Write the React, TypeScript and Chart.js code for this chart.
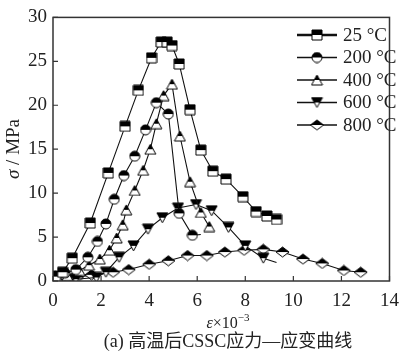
import React, { useEffect, useRef } from "react";
import { Chart, registerables } from "chart.js";

Chart.register(...registerables);

// ---- data (strain ×10^-3, stress MPa) ----
const seriesLabels = ["25 °C", "200 °C", "400 °C", "600 °C", "800 °C"];

const strain25 = [0.1, 0.4, 0.8, 1.55, 2.3, 3.0, 3.55, 4.1, 4.5, 4.75, 4.95, 5.25, 5.7, 6.15, 6.65, 7.2, 7.9, 8.45, 8.9, 9.3];
const stress25 = [0.5, 1.0, 2.6, 6.6, 12.3, 17.6, 21.7, 25.4, 27.2, 27.2, 26.8, 24.7, 19.5, 14.9, 12.5, 11.6, 9.6, 7.9, 7.4, 7.0];

const strain200 = [0.1, 0.5, 0.95, 1.45, 1.85, 2.2, 2.55, 2.95, 3.4, 3.85, 4.3, 4.8, 5.25, 5.8, 6.15];
const stress200 = [0.6, 0.9, 1.3, 2.7, 4.5, 6.5, 9.3, 12.0, 14.2, 17.2, 20.3, 19.0, 7.7, 5.2, 5.3];

const strain400 = [0.2, 0.6, 1.1, 1.5, 1.95, 2.35, 2.65, 2.9, 3.05, 3.4, 3.75, 4.05, 4.3, 4.6, 4.95, 5.28, 5.7, 6.15, 6.5];
const stress400 = [0.3, 0.6, 1.2, 1.8, 2.5, 3.5, 4.9, 6.4, 8.1, 10.3, 12.6, 15.0, 17.9, 21.1, 22.4, 16.5, 11.3, 7.8, 6.2];

const strain600 = [0.2, 0.6, 0.95, 1.8, 2.2, 2.75, 3.35, 3.95, 4.55, 5.2, 5.95, 6.6, 7.3, 8.0, 8.75, 9.3];
const stress600 = [0.2, 0.1, 0.2, 0.4, 1.0, 2.7, 4.0, 5.9, 7.2, 8.3, 8.7, 8.0, 6.1, 4.0, 2.6, 2.1];

const strain800 = [0.1, 0.5, 1.0, 1.6, 2.5, 3.15, 4.0, 4.8, 5.6, 6.4, 7.15, 7.95, 8.75, 9.55, 10.4, 11.2, 12.1, 12.8];
const stress800 = [0.5, 0.3, 0.4, 0.7, 1.0, 1.3, 1.9, 2.3, 2.9, 2.9, 3.3, 3.5, 3.6, 3.3, 2.5, 2.0, 1.2, 1.0];

// points drawn as bare line ends (no marker)
const tailFlags = [false, true, false, true, false];

const xTicks = [0, 2, 4, 6, 8, 10, 12, 14];
const yTicks = [0, 5, 10, 15, 20, 25, 30];

const markerShapes = ["square", "circle", "triangleUp", "triangleDown", "diamond"];

const SERIF = "'Liberation Serif', 'DejaVu Serif', serif";
const CAPTION_FONT = "'Liberation Serif', 'Noto Sans CJK SC', serif";

function makeMarker(shape: string): HTMLCanvasElement {
  const size: Record<string, [number, number]> = {
    square: [10, 10],
    circle: [10, 10],
    triangleUp: [11, 10],
    triangleDown: [11, 10],
    diamond: [13, 10],
  };
  const [w, h] = size[shape];
  const c = document.createElement("canvas");
  c.width = w + 2;
  c.height = h + 2;
  const g = c.getContext("2d")!;
  const cx = c.width / 2;
  const cy = c.height / 2;
  const path = () => {
    g.beginPath();
    if (shape === "square") {
      g.rect(cx - w / 2, cy - h / 2, w, h);
    } else if (shape === "circle") {
      g.arc(cx, cy, w / 2, 0, Math.PI * 2);
    } else if (shape === "triangleUp") {
      g.moveTo(cx, cy - h / 2);
      g.lineTo(cx + w / 2, cy + h / 2);
      g.lineTo(cx - w / 2, cy + h / 2);
      g.closePath();
    } else if (shape === "triangleDown") {
      g.moveTo(cx - w / 2, cy - h / 2);
      g.lineTo(cx + w / 2, cy - h / 2);
      g.lineTo(cx, cy + h / 2);
      g.closePath();
    } else {
      g.moveTo(cx, cy - h / 2);
      g.lineTo(cx + w / 2, cy);
      g.lineTo(cx, cy + h / 2);
      g.lineTo(cx - w / 2, cy);
      g.closePath();
    }
  };
  path();
  g.fillStyle = "#fff";
  g.fill();
  g.save();
  path();
  g.clip();
  g.fillStyle = "#000";
  g.fillRect(0, 0, c.width, cy);
  g.restore();
  path();
  g.lineWidth = 1;
  g.strokeStyle = "#000";
  g.stroke();
  return c;
}

export default function App() {
  const ref = useRef<HTMLCanvasElement | null>(null);

  useEffect(() => {
    const canvas = ref.current;
    if (!canvas) return;
    const markers = markerShapes.map(makeMarker);
    const strains = [strain25, strain200, strain400, strain600, strain800];
    const stresses = [stress25, stress200, stress400, stress600, stress800];

    const datasets = seriesLabels.map((label, i) => {
      const pts = strains[i].map((x, j) => ({ x, y: stresses[i][j] }));
      const n = pts.length;
      return {
        label,
        data: pts,
        borderColor: "#111",
        borderWidth: 1.1,
        backgroundColor: "#fff",
        pointStyle: markers[i] as any,
        pointRadius: (ctx: any) => (tailFlags[i] && ctx.dataIndex === n - 1 ? 0 : 5),
        showLine: true,
        tension: 0,
      };
    });

    const framePlugin = {
      id: "frameAndText",
      afterDraw(chart: any) {
        const { ctx, chartArea } = chart;
        const { left, right, top, bottom } = chartArea;
        const xs = chart.scales.x;
        const ys = chart.scales.y;
        ctx.save();
        // frame
        ctx.strokeStyle = "#333";
        ctx.lineWidth = 1.5;
        ctx.strokeRect(left, top, right - left, bottom - top);
        // inward ticks
        ctx.lineWidth = 1.2;
        ctx.beginPath();
        xTicks.forEach((v) => {
          const px = xs.getPixelForValue(v);
          ctx.moveTo(px, bottom);
          ctx.lineTo(px, bottom - 5);
        });
        yTicks.forEach((v) => {
          const py = ys.getPixelForValue(v);
          ctx.moveTo(left, py);
          ctx.lineTo(left + 5, py);
        });
        ctx.stroke();

        // y axis title: σ / MPa
        ctx.fillStyle = "#222";
        ctx.save();
        ctx.translate(14, 149);
        ctx.rotate(-Math.PI / 2);
        ctx.textBaseline = "middle";
        ctx.font = `italic 19px ${SERIF}`;
        const s1 = "σ";
        const s2 = " / MPa";
        const w1 = ctx.measureText(s1).width;
        ctx.font = `19px ${SERIF}`;
        const w2 = ctx.measureText(s2).width;
        const sx = -(w1 + w2) / 2;
        ctx.font = `italic 19px ${SERIF}`;
        ctx.textAlign = "left";
        ctx.fillText(s1, sx, 0);
        ctx.font = `19px ${SERIF}`;
        ctx.fillText(s2, sx + w1, 0);
        ctx.restore();

        // x axis title: ε×10^-3
        ctx.textBaseline = "alphabetic";
        ctx.textAlign = "left";
        ctx.font = `italic 16px ${SERIF}`;
        const e1 = "ε";
        const ew1 = ctx.measureText(e1).width;
        ctx.font = `16px ${SERIF}`;
        const e2 = "×10";
        const ew2 = ctx.measureText(e2).width;
        ctx.font = `11px ${SERIF}`;
        const e3 = "−3";
        const ew3 = ctx.measureText(e3).width;
        const ex = 228 - (ew1 + ew2 + ew3) / 2;
        const ey = 328;
        ctx.font = `italic 16px ${SERIF}`;
        ctx.fillText(e1, ex, ey);
        ctx.font = `16px ${SERIF}`;
        ctx.fillText(e2, ex + ew1, ey);
        ctx.font = `11px ${SERIF}`;
        ctx.fillText(e3, ex + ew1 + ew2, ey - 7);

        // caption
        ctx.font = `18px ${CAPTION_FONT}`;
        ctx.textAlign = "center";
        ctx.textBaseline = "middle";
        ctx.fillText("(a) 高温后CSSC应力—应变曲线", 228, 342);

        // legend
        const rows = [35, 57.5, 80, 102.5, 125];
        seriesLabels.forEach((label, i) => {
          const y = rows[i];
          ctx.strokeStyle = "#111";
          ctx.lineWidth = i === 0 ? 2.5 : 1.5;
          ctx.beginPath();
          ctx.moveTo(297, y);
          ctx.lineTo(337, y);
          ctx.stroke();
          const m = markers[i];
          ctx.drawImage(m, 317 - m.width / 2, y - m.height / 2);
          ctx.fillStyle = "#222";
          ctx.font = `19px ${SERIF}`;
          ctx.textAlign = "left";
          ctx.textBaseline = "middle";
          ctx.fillText(label, 343, y + 1);
        });
        ctx.restore();
      },
    };

    const chart = new Chart(canvas, {
      type: "scatter",
      data: { datasets: datasets as any },
      options: {
        animation: false,
        responsive: false,
        maintainAspectRatio: false,
        layout: { padding: { top: 12, right: 6, left: 0, bottom: 0 } },
        plugins: { legend: { display: false }, tooltip: { enabled: false } },
        scales: {
          x: {
            type: "linear",
            min: 0,
            max: 14,
            afterFit: (s: any) => {
              s.height = 76;
            },
            afterBuildTicks: (s: any) => {
              s.ticks = xTicks.map((v) => ({ value: v }));
            },
            grid: { display: false, drawTicks: false },
            border: { display: false },
            ticks: {
              padding: 9,
              color: "#222",
              font: { family: SERIF, size: 19 },
              maxRotation: 0,
            },
          },
          y: {
            type: "linear",
            min: 0,
            max: 30,
            afterFit: (s: any) => {
              s.width = 53;
            },
            afterBuildTicks: (s: any) => {
              s.ticks = yTicks.map((v) => ({ value: v }));
            },
            grid: { display: false, drawTicks: false },
            border: { display: false },
            ticks: {
              padding: 6,
              color: "#222",
              font: { family: SERIF, size: 19 },
            },
          },
        },
      },
      plugins: [framePlugin],
    });
    return () => chart.destroy();
  }, []);

  return (
    <div style={{ position: "fixed", left: 0, top: 0, width: 408, height: 357, background: "#fff" }}>
      <canvas ref={ref} width={408} height={357} style={{ display: "block", width: 408, height: 357 }} />
    </div>
  );
}
